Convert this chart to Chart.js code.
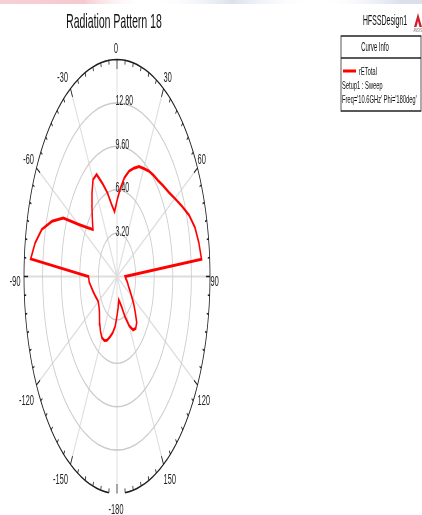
<!DOCTYPE html>
<html>
<head>
<meta charset="utf-8">
<script src="https://cdn.jsdelivr.net/npm/chart.js@4.4.1/dist/chart.umd.min.js"></script>
<style>
html,body{margin:0;padding:0;background:#fff;overflow:hidden}
#plot{display:block}
</style>
</head>
<body>
<canvas id="plot" width="844" height="515" style="width:422px;height:515px"></canvas>
<script>
// Far-field cut: rETotal against theta, Phi = 180deg, 10.6 GHz
const thetaDeg = [-180,-175,-170,-165,-160,-155,-150,-145,-140,-135,-130,-125,-120,-115,-110,-105,-100,-95,-90,
  -85,-80,-75,-70,-65,-60,-55,-50,-45,-40,-35,-30,-25,-20,-15,-10,-5,
  0,5,10,15,20,25,30,35,40,45,50,55,60,65,70,75,80,85,
  90,95,100,105,110,115,120,125,130,135,140,145,150,155,160,165,170,175,180];
const rETotal = [2.9,3.7,4.2,4.6,5.0,5.2,5.2,4.95,4.6,4.25,3.95,3.8,3.72,3.85,4.05,4.25,4.5,4.8,4.9,
  14.9,14.3,13.4,11.9,10.2,7.7,6.3,5.4,6.0,6.7,7.5,8.25,8.3,7.3,6.4,5.4,4.8,
  5.6,6.5,7.4,8.05,8.5,8.95,9.2,9.5,9.75,10.0,10.4,10.85,11.5,12.3,13.2,13.9,14.3,14.6,
  1.4,1.5,1.7,1.9,2.1,2.45,2.9,3.5,4.1,4.8,5.0,4.8,4.2,3.3,2.4,2.0,1.75,2.3,2.9];

// Radial grid circles and their labels
const ringValues = [3.2, 6.4, 9.6, 12.8];
const ringLabels = ['3.20', '6.40', '9.60', '12.80'];
const radialMax = 16;

// Angular axis labels
const angleTicks = [0, 30, 60, 90, 120, 150, 180, -150, -120, -90, -60, -30];
const angleLabels = ['0', '30', '60', '90', '120', '150', '-180', '-150', '-120', '-90', '-60', '-30'];

const plotTitle = 'Radiation Pattern 18';
const designName = 'HFSSDesign1';
const curveName = 'rETotal';
const curveInfo = ['Setup1 : Sweep', "Freq='10.6GHz' Phi='180deg'"];

const FONT = '"Liberation Sans", Arial, Helvetica, sans-serif';
const rad = d => d * Math.PI / 180;

// polar (r, theta) -> cartesian, theta measured clockwise from the top
const curvePoints = thetaDeg.map((t, i) => ({
  x: rETotal[i] * Math.sin(rad(t)),
  y: rETotal[i] * Math.cos(rad(t))
}));

function polarPx(chart, r, deg) {
  const a = rad(deg);
  return {
    x: chart.scales.x.getPixelForValue(r * Math.sin(a)),
    y: chart.scales.y.getPixelForValue(r * Math.cos(a))
  };
}

function tracePath(ctx, chart, r, from, to, step) {
  ctx.beginPath();
  let first = true;
  for (let d = from; d <= to + 1e-9; d += step) {
    const p = polarPx(chart, r, d);
    if (first) { ctx.moveTo(p.x, p.y); first = false; } else ctx.lineTo(p.x, p.y);
  }
}

const polarGrid = {
  id: 'polarGrid',
  beforeDatasetsDraw(chart) {
    const ctx = chart.ctx;
    const c = polarPx(chart, 0, 0);
    ctx.save();
    // spokes every 30 degrees
    ctx.strokeStyle = '#dedede';
    ctx.lineWidth = 2;
    for (let d = 0; d < 360; d += 30) {
      const p = polarPx(chart, radialMax, d);
      ctx.beginPath();
      ctx.moveTo(c.x, c.y);
      ctx.lineTo(p.x, p.y);
      ctx.stroke();
    }
    // grid circles
    ctx.strokeStyle = '#cbcbcb';
    ctx.lineWidth = 1.6;
    ringValues.forEach(r => {
      tracePath(ctx, chart, r, 0, 360, 5);
      ctx.closePath();
      ctx.stroke();
    });
    // radial value labels along the 0 degree spoke
    ctx.fillStyle = '#222';
    ctx.font = '14px ' + FONT;
    ctx.textAlign = 'left';
    ctx.textBaseline = 'alphabetic';
    ringValues.forEach((r, i) => {
      const p = polarPx(chart, r, 0);
      ctx.fillText(ringLabels[i], p.x - 3, p.y + 2.5);
    });
    ctx.restore();
  },
  afterDatasetsDraw(chart) {
    const ctx = chart.ctx;
    ctx.save();
    // outer boundary
    ctx.strokeStyle = '#1c1c1c';
    ctx.lineWidth = 1.6;
    tracePath(ctx, chart, radialMax, -175, 175, 2.5);
    ctx.stroke();
    // tick marks every 5 degrees, longer at 30 degree steps
    ctx.lineWidth = 1.5;
    for (let d = -175; d <= 180; d += 5) {
      const len = (d % 30 === 0) ? 0.7 : 0.32;
      const p1 = polarPx(chart, radialMax, d);
      const p2 = polarPx(chart, radialMax - len, d);
      ctx.beginPath();
      ctx.moveTo(p1.x, p1.y);
      ctx.lineTo(p2.x, p2.y);
      ctx.stroke();
    }
    // angle labels
    ctx.fillStyle = '#222';
    ctx.font = '15px ' + FONT;
    ctx.textBaseline = 'alphabetic';
    angleTicks.forEach((d, i) => {
      const p = polarPx(chart, radialMax, d);
      const s = Math.sin(rad(d)), c = Math.cos(rad(d));
      let x = p.x, y;
      if (Math.abs(s) < 0.01) {
        ctx.textAlign = 'center';
        x = p.x - 2;
        y = c > 0 ? p.y - 7 : p.y + 20;
      } else if (Math.abs(c) < 0.01) {
        ctx.textAlign = s > 0 ? 'left' : 'right';
        x = s > 0 ? p.x + 1 : p.x - 7;
        y = p.y + 9;
      } else {
        ctx.textAlign = s > 0 ? 'left' : 'right';
        x = s > 0 ? p.x : p.x - 5;
        y = c > 0 ? p.y - (2 + 5 * c) : p.y + 20;
      }
      ctx.fillText(angleLabels[i], x, y);
    });
    ctx.restore();
  },
  afterDraw(chart) {
    const ctx = chart.ctx;
    ctx.save();
    // faint banner edge along the top
    const g = ctx.createLinearGradient(0, 0, 844, 0);
    g.addColorStop(0, 'rgba(240,170,180,0.55)');
    g.addColorStop(0.2, 'rgba(235,150,160,0.5)');
    g.addColorStop(0.35, 'rgba(255,255,255,0)');
    g.addColorStop(0.55, 'rgba(190,200,220,0.55)');
    g.addColorStop(0.75, 'rgba(255,255,255,0)');
    g.addColorStop(0.95, 'rgba(190,198,222,0.55)');
    ctx.fillStyle = g;
    ctx.fillRect(0, 0, 844, 4);

    ctx.fillStyle = '#111';
    ctx.textBaseline = 'alphabetic';
    // title
    ctx.font = '21px ' + FONT;
    ctx.textAlign = 'center';
    ctx.fillText(plotTitle, 228, 28);
    // design name
    ctx.font = '14px ' + FONT;
    ctx.fillText(designName, 770, 25);
    // small logo mark
    ctx.fillStyle = '#d2202a';
    ctx.beginPath();
    ctx.moveTo(836, 13);
    ctx.lineTo(828, 27);
    ctx.lineTo(833, 27);
    ctx.lineTo(836, 21);
    ctx.lineTo(839, 27);
    ctx.lineTo(844, 27);
    ctx.closePath();
    ctx.fill();
    ctx.fillStyle = '#666';
    ctx.font = '5px ' + FONT;
    ctx.textAlign = 'left';
    ctx.fillText('ANSYS', 827, 32);

    // curve info box
    ctx.strokeStyle = '#222';
    ctx.lineWidth = 1.5;
    ctx.strokeRect(682, 36, 160, 75);
    ctx.beginPath();
    ctx.moveTo(682, 58);
    ctx.lineTo(842, 58);
    ctx.stroke();
    ctx.fillStyle = '#111';
    ctx.font = '12px ' + FONT;
    ctx.textAlign = 'center';
    ctx.fillText('Curve Info', 750, 51);
    ctx.strokeStyle = '#ff0000';
    ctx.lineWidth = 3;
    ctx.beginPath();
    ctx.moveTo(686, 71);
    ctx.lineTo(712, 71);
    ctx.stroke();
    ctx.textAlign = 'left';
    ctx.font = '11.5px ' + FONT;
    ctx.fillText(curveName, 718, 75);
    ctx.fillText(curveInfo[0], 684, 89);
    ctx.fillText(curveInfo[1], 684, 103);
    ctx.restore();
  }
};

new Chart(document.getElementById('plot'), {
  type: 'scatter',
  data: {
    datasets: [{
      label: curveName,
      data: curvePoints,
      showLine: true,
      borderColor: '#ff0000',
      borderWidth: 3,
      pointRadius: 0,
      fill: false,
      tension: 0,
      clip: false
    }]
  },
  options: {
    responsive: false,
    devicePixelRatio: 1,
    animation: false,
    events: [],
    layout: { padding: { left: 48, right: 424, top: 59.5, bottom: 21.5 } },
    scales: {
      x: { type: 'linear', min: -radialMax, max: radialMax, display: false },
      y: { type: 'linear', min: -radialMax, max: radialMax, display: false }
    },
    plugins: { legend: { display: false }, tooltip: { enabled: false }, title: { display: false } }
  },
  plugins: [polarGrid]
});
</script>
</body>
</html>
